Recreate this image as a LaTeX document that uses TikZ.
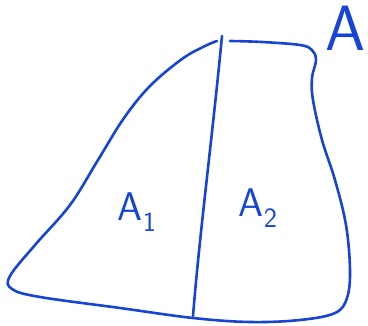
\documentclass[tikz,border=0pt]{standalone}
\usepackage{xcolor}
\usepackage{tikz}
\usetikzlibrary{positioning, calc}
\definecolor{penblue}{RGB}{22,68,212}

\newcommand{\handsub}[1]{\raisebox{-0.28em}{\fontsize{28}{28}\selectfont #1}}

\tikzset{
    pen/.style={draw=penblue, line width=2.6pt, line cap=round, line join=round},
    handlabel/.style={text=penblue, font=\sffamily\fontsize{40}{40}\selectfont, inner sep=0pt}
}

\begin{document}
\begin{tikzpicture}[x=1pt, y=-1pt]
\useasboundingbox (0,0) rectangle (368,326);

% outline of the area
\draw[pen] plot[smooth, tension=0.6] coordinates {
    (230,41) (262,42) (300,45) (312,50) (316,60) (312,78) (313,100)
    (322,140) (335,180) (346,225) (350,270) (347,298) (335,313)
    (300,320) (250,322) (193,318) (120,308) (40,297) (12,289)
    (10,276) (35,245) (70,205) (98,160) (124,118) (150,86)
    (182,59) (205,46) (217,41)};

% dividing line
\coordinate (top) at (222,36);
\coordinate (bottom) at (193,316);
\draw[pen] (top) .. controls (212,140) and (200,230) .. (bottom);

% labels
\node[handlabel] (Aone) at (137,212) {A\handsub{1}};
\node[handlabel] (Atwo) at (258,208) {A\handsub{2}};
\node[handlabel, font=\sffamily\fontsize{64}{64}\selectfont, anchor=north east] (Atot) at (366,6) {A};
\end{tikzpicture}
\end{document}
